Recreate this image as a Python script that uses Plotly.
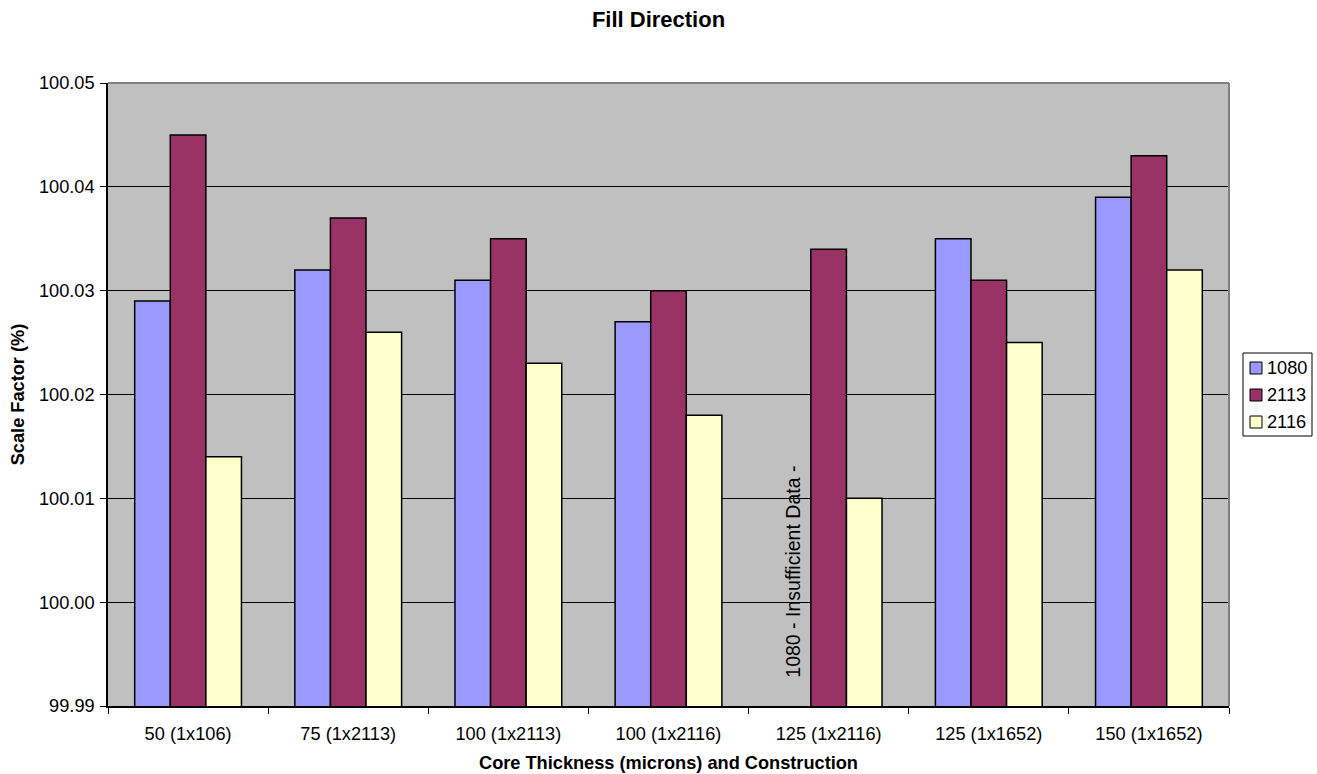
import plotly.graph_objects as go

# Core thickness / construction categories
categories = ["50 (1x106)", "75 (1x2113)", "100 (1x2113)", "100 (1x2116)",
              "125 (1x2116)", "125 (1x1652)", "150 (1x1652)"]

# Scale factor (%) per glass style; 1080 has no value for 125 (1x2116)
scale_1080 = [100.029, 100.032, 100.031, 100.027, None, 100.035, 100.039]
scale_2113 = [100.045, 100.037, 100.035, 100.030, 100.034, 100.031, 100.043]
scale_2116 = [100.014, 100.026, 100.023, 100.018, 100.010, 100.025, 100.032]

y_ticks = [99.99, 100.00, 100.01, 100.02, 100.03, 100.04, 100.05]

FONT = "Liberation Sans, Arial, sans-serif"
TICK_SIZE = 18.2

W, H = 1317, 774
M_L, M_R, M_T, M_B = 108, 88, 83, 68
plot_w = W - M_L - M_R
plot_h = H - M_T - M_B

series = [
    ("1080", scale_1080, "#9999FF"),
    ("2113", scale_2113, "#993366"),
    ("2116", scale_2116, "#FFFFCC"),
]

fig = go.Figure()
for name, vals, color in series:
    fig.add_trace(go.Bar(
        name=name, x=categories, y=vals,
        marker=dict(color=color, line=dict(color="black", width=1.5)),
        showlegend=False,
    ))

# gray frame on top and right of the plot area
fig.add_shape(type="line", xref="paper", yref="paper", x0=0, x1=1, y0=1, y1=1,
              line=dict(color="#808080", width=2), layer="above")
fig.add_shape(type="line", xref="paper", yref="paper", x0=1, x1=1, y0=0, y1=1,
              line=dict(color="#808080", width=2), layer="above")


# compact boxed legend to the right of the plot (pixel positions -> paper coords)
def to_paper_x(p):
    return (p - M_L) / plot_w


def to_paper_y(p):
    return (H - M_B - p) / plot_h


box_left, box_right, box_top, box_bottom = 1243, 1312, 353, 436
fig.add_shape(type="rect", xref="paper", yref="paper",
              x0=to_paper_x(box_left), x1=to_paper_x(box_right),
              y0=to_paper_y(box_bottom), y1=to_paper_y(box_top),
              line=dict(color="black", width=1), fillcolor="white", layer="above")
row_y = [368, 395, 422]
for (name, _, color), ry in zip(series, row_y):
    fig.add_shape(type="rect", xref="paper", yref="paper",
                  x0=to_paper_x(1250), x1=to_paper_x(1262),
                  y0=to_paper_y(ry + 6), y1=to_paper_y(ry - 6),
                  line=dict(color="black", width=1), fillcolor=color, layer="above")
    fig.add_annotation(x=to_paper_x(1265), y=to_paper_y(ry), xref="paper", yref="paper",
                       xanchor="left", yanchor="middle", text=name, showarrow=False,
                       font=dict(family=FONT, size=TICK_SIZE, color="black"))

# note for the missing 1080 bar
fig.add_annotation(
    x="125 (1x2116)", y=100.0029, xref="x", yref="y", xshift=-36,
    text="1080 - Insufficient Data -", textangle=-90, showarrow=False,
    font=dict(family=FONT, size=19.5, color="black"),
)

fig.update_layout(
    width=W, height=H,
    margin=dict(l=M_L, r=M_R, t=M_T, b=M_B, autoexpand=False),
    paper_bgcolor="white", plot_bgcolor="#C0C0C0",
    barmode="group", bargap=1/3, bargroupgap=0,
    font=dict(family=FONT, size=TICK_SIZE, color="black"),
    title=dict(text="<b>Fill Direction</b>", x=0.5, xanchor="center",
               y=1 - 19/774, yanchor="middle",
               font=dict(family=FONT, size=22, color="black")),
    showlegend=False,
    xaxis=dict(
        type="category", categoryorder="array", categoryarray=categories,
        showline=True, linecolor="black", linewidth=1.5,
        ticks="outside", ticklen=6, tickcolor="black", tickson="boundaries",
        ticklabelstandoff=10,
        showgrid=False,
        title=dict(text="<b>Core Thickness (microns) and Construction</b>",
                   font=dict(family=FONT, size=TICK_SIZE, color="black"), standoff=14),
    ),
    yaxis=dict(
        range=[99.99, 100.05], tickvals=y_ticks,
        ticktext=[f"{v:.2f}" for v in y_ticks],
        showline=True, linecolor="black", linewidth=1.5,
        ticks="outside", ticklen=6, tickcolor="black",
        ticklabelstandoff=2,
        showgrid=True, gridcolor="black", gridwidth=1,
        zeroline=False,
        title=dict(text="<b>Scale Factor (%)</b>",
                   font=dict(family=FONT, size=TICK_SIZE, color="black"), standoff=10),
    ),
)

fig.write_html("out.html")
